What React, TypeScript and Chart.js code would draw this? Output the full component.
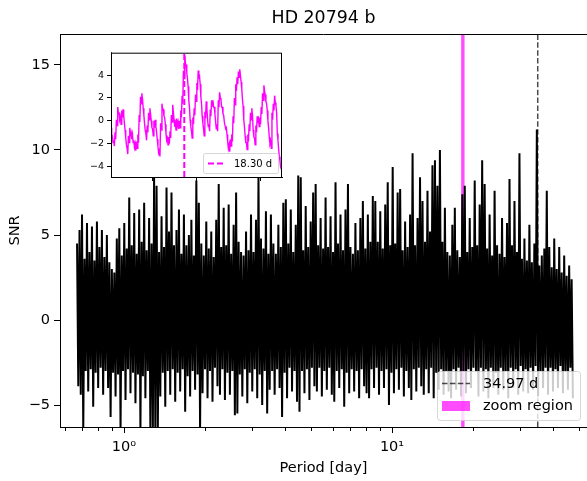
import React, { useEffect, useRef } from 'react';
import { Chart, registerables } from 'chart.js';
Chart.register(...registerables);

const TITLE = 'HD 20794 b';
const X_LABEL = 'Period [day]';
const Y_LABEL = 'SNR';
const PERIOD_START = 0.668;
const PERIOD_END = 47.3;
const X_MIN = 0.577;
const X_MAX = 53.4;
const Y_MIN = -6.29;
const Y_MAX = 16.82;
const Y_TICKS = [-5, 0, 5, 10, 15];
const X_MAJOR_TICKS = [1, 10];
const X_MINOR_TICKS = [0.6, 0.7, 0.8, 0.9, 2, 3, 4, 5, 6, 7, 8, 9, 20, 30, 40, 50];
const BEST_PERIOD = 34.97;
const BEST_LABEL = '34.97 d';
const ZOOM_LABEL = 'zoom region';
const ZOOM_PERIOD = 18.3;
const ZOOM_PERIOD_LABEL = '18.30 d';
const SPAN_RANGE = [18.1, 18.68];
const INSET_RANGE = [18.0, 18.7];
const INSET_Y_MIN = -4.9;
const INSET_Y_MAX = 5.95;
const INSET_Y_TICKS = [-4, -2, 0, 2, 4];
const INSET_X_TICKS = [18.17, 18.35, 18.61];

// per-bin maximum of SNR
const snrMax = [
  4.5, 5.3, 6.2, 3.6, 5.7, 4.0, 5.5, 3.5, 5.8, 4.3,
  5.3, 3.7, 5.0, 3.4, 3.0, 2.8, 4.8, 5.4, 3.8, 5.7,
  4.2, 7.2, 4.4, 6.3, 3.9, 6.5, 4.6, 6.9, 4.1, 6.0,
  4.5, 8.4, 7.9, 4.0, 6.1, 4.3, 7.8, 5.2, 7.5, 4.4,
  5.3, 6.5, 3.9, 6.2, 4.4, 5.0, 5.9, 3.8, 8.2, 6.9,
  4.5, 3.8, 5.8, 4.2, 5.2, 3.7, 5.9, 8.0, 4.3, 6.6,
  4.4, 6.8, 3.9, 5.6, 7.5, 4.6, 4.0, 3.8, 5.2, 4.1,
  6.2, 4.0, 5.9, 8.4, 4.8, 4.2, 6.4, 3.9, 6.2, 4.5,
  3.9, 5.6, 4.3, 6.9, 7.1, 4.5, 6.5, 4.0, 5.6, 8.5,
  8.4, 4.1, 6.7, 4.3, 5.8, 7.5, 8.0, 4.4, 6.0, 4.2,
  7.2, 4.3, 6.1, 4.0, 8.1, 4.5, 6.2, 4.1, 6.5, 8.0,
  4.3, 3.9, 5.7, 4.1, 6.0, 7.0, 4.2, 6.2, 4.6, 7.3,
  7.0, 4.6, 6.4, 4.2, 6.8, 8.1, 4.4, 9.0, 4.5, 7.5,
  7.7, 4.1, 5.8, 4.3, 6.2, 9.8, 4.4, 6.0, 8.4, 7.0,
  4.6, 7.6, 5.2, 9.1, 9.4, 7.9, 10.0, 4.6, 6.6, 4.0,
  3.8, 5.6, 6.6, 4.1, 3.7, 7.4, 7.9, 4.0, 6.0, 4.3,
  8.2, 4.4, 6.8, 9.4, 8.0, 4.2, 6.2, 3.8, 7.6, 4.4,
  3.9, 6.0, 3.7, 5.7, 8.3, 4.4, 7.0, 4.0, 9.8, 3.6,
  4.8, 3.5, 5.6, 3.4, 4.5, 11.2, 3.2, 3.8, 4.2, 7.6,
  4.3, 3.1, 4.8, 3.0, 4.3, 2.8, 3.8, 2.6, 3.2, 2.4,
];

// per-bin minimum of SNR
const snrMin = [
  -3.9, -4.4, -6.5, -3.0, -4.2, -2.9, -5.1, -3.1, -4.0, -2.8,
  -4.4, -3.0, -4.0, -5.7, -3.1, -4.5, -3.2, -6.5, -3.0, -4.7,
  -2.9, -4.3, -3.1, -4.9, -3.2, -6.5, -3.3, -4.6, -3.0, -6.5,
  -6.5, -6.5, -6.5, -4.5, -3.1, -5.1, -3.0, -4.4, -2.9, -4.8,
  -3.1, -4.2, -2.9, -5.4, -3.3, -4.5, -3.0, -4.1, -3.2, -6.5,
  -4.3, -2.9, -4.6, -3.0, -4.8, -2.8, -3.9, -4.4, -2.9, -4.7,
  -3.1, -4.4, -3.0, -5.6, -5.5, -3.2, -4.5, -2.9, -4.9, -3.1,
  -4.2, -2.9, -4.6, -3.2, -5.0, -3.0, -5.5, -4.1, -3.0, -4.4,
  -2.9, -4.0, -5.7, -3.1, -4.6, -2.8, -4.2, -3.0, -4.8, -5.4,
  -3.0, -4.3, -2.9, -4.7, -2.8, -3.9, -4.2, -2.8, -4.5, -3.0,
  -4.1, -2.8, -4.4, -4.8, -3.0, -4.0, -2.9, -5.1, -3.1, -4.3,
  -2.9, -4.2, -3.0, -4.6, -2.9, -3.9, -4.3, -4.6, -2.9, -4.0,
  -2.8, -4.4, -3.0, -4.0, -2.9, -5.0, -3.1, -4.3, -2.9, -4.1,
  -2.8, -4.5, -3.0, -4.0, -4.7, -2.9, -4.2, -2.8, -3.9, -4.4,
  -2.9, -4.3, -2.8, -4.6, -3.1, -4.1, -2.9, -4.4, -3.0, -4.2,
  -4.6, -2.9, -4.1, -2.8, -4.5, -3.0, -4.3, -2.9, -4.0, -2.8,
  -3.0, -4.5, -2.8, -4.2, -2.9, -4.6, -2.8, -4.0, -3.1, -4.4,
  -2.8, -4.1, -3.0, -4.6, -2.8, -4.0, -2.9, -4.4, -2.7, -4.2,
  -2.9, -4.3, -2.8, -4.1, -2.7, -4.5, -3.0, -4.0, -2.8, -4.4,
  -2.8, -4.2, -2.9, -4.0, -2.7, -4.3, -3.0, -4.1, -2.8, -4.6,
];

// zoomed SNR around 18.3 d
const insetSnr = [
  -0.6, -1.2, -1.3, -1.9, -1.7, -2.2, -1.0, -1.6, 0.1, -0.4, 1.2, 0.7, 0.7, 0.1, 0.3, -0.3, 0.9, 0.3, 1.0, 0.4,
  -0.2, -0.8, -1.5, -2.1, -2.4, -2.9, -1.3, -1.9, -0.6, -1.2, -1.0, -1.6, -1.2, -1.9, -1.7, -2.3, -2.0, -2.6, -1.8, -2.4,
  -1.2, -1.9, 0.5, -0.1, 2.1, 1.5, 2.4, 1.9, 1.1, 0.5, -0.2, -0.8, -1.1, -1.7, -0.4, -1.0, 0.7, 0.1, 1.1, 0.6,
  0.0, -0.6, -0.7, -1.3, 0.0, -0.6, 0.1, -0.5, -1.0, -1.6, -2.2, -2.8, -2.6, -3.1, -0.2, -0.8, 1.5, 1.0, 1.0, 0.4,
  0.3, -0.3, -1.1, -1.7, -1.5, -2.1, -1.4, -2.0, -0.9, -1.5, 0.5, -0.1, 1.4, 0.8, 0.1, -0.5, -0.2, -0.8, 0.2, -0.4,
  -0.1, -0.7, 0.0, -0.6, 0.9, 0.3, 2.2, 1.5, 4.4, 3.7, 5.7, 5.0, 4.9, 4.2, 3.7, 3.0, 1.8, 1.2, 0.1, -0.5,
  -0.9, -1.5, 0.3, -0.3, 1.1, 0.5, 2.3, 1.7, 3.3, 2.7, 4.4, 3.8, 3.9, 3.2, 2.1, 1.5, 0.4, -0.2, -0.7, -1.3,
  0.8, 0.2, 1.7, 1.1, 0.1, -0.5, -0.3, -0.9, 1.0, 0.4, 1.8, 1.3, 1.8, 1.2, 1.2, 0.6, -0.1, -0.7, -0.3, -0.9,
  1.8, 1.2, 2.5, 2.0, 1.8, 1.2, 1.2, 0.6, 0.5, -0.1, -0.1, -0.7, -0.6, -1.2, -1.8, -2.4, -2.1, -2.7, -1.6, -2.2,
  -1.2, -1.8, 0.4, -0.2, 2.0, 1.4, 3.2, 2.6, 3.8, 3.2, 4.3, 3.8, 4.5, 4.0, 3.4, 2.8, 1.9, 1.3, 0.1, -0.5,
  -1.3, -1.9, -1.9, -2.5, -1.2, -1.8, -0.3, -0.9, 0.7, 0.1, 1.1, 0.5, -0.8, -1.4, -1.5, -2.1, -0.4, -1.0, 0.4, -0.2,
  0.1, -0.5, 0.3, -0.3, 1.2, 0.6, 2.4, 1.8, 3.1, 2.6, 2.3, 1.7, 1.5, 0.9, 0.0, -0.6, -1.4, -2.0, -1.8, -2.4,
  0.7, 0.1, 1.5, 0.9, 2.2, 1.6, 1.3, 0.7, -1.1, -1.7, -2.5, -3.1, -3.5, -4.1, -4.1, -4.6,
];

const FONT = '"DejaVu Sans", sans-serif';

function mainPoints() {
  const a = Math.log10(PERIOD_START);
  const b = Math.log10(PERIOD_END);
  const n = snrMax.length;
  const m = 2 * n - 1;
  const pts: { x: number; y: number }[] = [];
  for (let i = 0; i < n; i++) {
    pts.push({ x: Math.pow(10, a + ((b - a) * (2 * i)) / m), y: snrMax[i] });
    pts.push({ x: Math.pow(10, a + ((b - a) * (2 * i + 1)) / m), y: snrMin[i] });
  }
  return pts;
}

function insetPoints() {
  const n = insetSnr.length;
  return insetSnr.map((v, i) => ({
    x: INSET_RANGE[0] + ((INSET_RANGE[1] - INSET_RANGE[0]) * i) / (n - 1),
    y: v,
  }));
}

const fmt = (v: number) => (v < 0 ? '\u2212' + Math.abs(v) : String(v));

function roundRect(ctx: CanvasRenderingContext2D, x: number, y: number, w: number, h: number, r: number) {
  ctx.beginPath();
  ctx.moveTo(x + r, y);
  ctx.lineTo(x + w - r, y);
  ctx.arcTo(x + w, y, x + w, y + r, r);
  ctx.lineTo(x + w, y + h - r);
  ctx.arcTo(x + w, y + h, x + w - r, y + h, r);
  ctx.lineTo(x + r, y + h);
  ctx.arcTo(x, y + h, x, y + h - r, r);
  ctx.lineTo(x, y + r);
  ctx.arcTo(x, y, x + r, y, r);
  ctx.closePath();
}

export default function App() {
  const mainRef = useRef<HTMLCanvasElement>(null);
  const insetRef = useRef<HTMLCanvasElement>(null);

  useEffect(() => {
    const decoMain = {
      id: 'decoMain',
      afterDraw(chart: any) {
        const ctx = chart.ctx as CanvasRenderingContext2D;
        const area = chart.chartArea;
        const xs = chart.scales.x;
        ctx.save();
        ctx.strokeStyle = '#000';
        ctx.lineWidth = 1;
        ctx.beginPath();
        ctx.moveTo(area.left, area.top + 0.5);
        ctx.lineTo(area.right, area.top + 0.5);
        ctx.stroke();
        X_MINOR_TICKS.forEach((v) => {
          const px = Math.round(xs.getPixelForValue(v)) + 0.5;
          ctx.beginPath();
          ctx.moveTo(px, area.bottom);
          ctx.lineTo(px, area.bottom + 4);
          ctx.stroke();
        });
        ctx.fillStyle = '#000';
        ctx.textAlign = 'center';
        ctx.textBaseline = 'middle';
        ctx.font = '17.4px ' + FONT;
        ctx.fillText(TITLE, (area.left + area.right) / 2, 18);
        ctx.font = '14.5px ' + FONT;
        ctx.fillText(X_LABEL, (area.left + area.right) / 2, 468);
        ctx.save();
        ctx.translate(15, (area.top + area.bottom) / 2);
        ctx.rotate(-Math.PI / 2);
        ctx.fillText(Y_LABEL, 0, 0);
        ctx.restore();
        // legend
        const lx = 437, ly = 371, lw = 143, lh = 49;
        roundRect(ctx, lx + 0.5, ly + 0.5, lw, lh, 3);
        ctx.fillStyle = 'rgba(255,255,255,0.8)';
        ctx.fill();
        ctx.strokeStyle = 'rgba(204,204,204,0.8)';
        ctx.lineWidth = 1;
        ctx.stroke();
        ctx.strokeStyle = 'rgba(0,0,0,0.7)';
        ctx.lineWidth = 1.5;
        ctx.setLineDash([5.5, 2.4]);
        ctx.beginPath();
        ctx.moveTo(lx + 5, ly + 12.5);
        ctx.lineTo(lx + 33, ly + 12.5);
        ctx.stroke();
        ctx.setLineDash([]);
        ctx.fillStyle = 'rgba(255,0,255,0.7)';
        ctx.fillRect(lx + 5, ly + 30, 28, 10);
        ctx.fillStyle = '#000';
        ctx.textAlign = 'left';
        ctx.font = '14.5px ' + FONT;
        ctx.fillText(BEST_LABEL, lx + 46, ly + 13);
        ctx.fillText(ZOOM_LABEL, lx + 46, ly + 35);
        ctx.restore();
      },
    };

    const allXTicks = [...X_MINOR_TICKS, ...X_MAJOR_TICKS].sort((a, b) => a - b);

    const main = new Chart(mainRef.current!, {
      type: 'line',
      data: {
        datasets: [
          {
            data: [
              { x: BEST_PERIOD, y: Y_MIN },
              { x: BEST_PERIOD, y: Y_MAX },
            ],
            borderColor: 'rgba(0,0,0,0.7)',
            borderWidth: 1.5,
            borderDash: [5.5, 2.4],
            pointRadius: 0,
            order: 0,
          },
          {
            data: mainPoints(),
            borderColor: '#000',
            borderWidth: 2,
            borderJoinStyle: 'bevel',
            pointRadius: 0,
            tension: 0,
            order: 1,
          },
          {
            data: [
              { x: SPAN_RANGE[0], y: Y_MAX },
              { x: SPAN_RANGE[1], y: Y_MAX },
            ],
            borderWidth: 0,
            borderColor: 'rgba(0,0,0,0)',
            backgroundColor: 'rgba(255,0,255,0.7)',
            fill: 'start',
            pointRadius: 0,
            order: 2,
          },
        ],
      },
      options: {
        animation: false,
        responsive: false,
        layout: { padding: { top: 34, right: 0, left: 0, bottom: 0 } },
        plugins: { legend: { display: false }, tooltip: { enabled: false }, title: { display: false } },
        scales: {
          x: {
            type: 'logarithmic',
            min: X_MIN,
            max: X_MAX,
            afterBuildTicks: (sc: any) => {
              sc.ticks = allXTicks.map((v) => ({ value: v }));
            },
            afterFit: (sc: any) => {
              sc.height = 54;
            },
            ticks: {
              autoSkip: false,
              maxRotation: 0,
              minRotation: 0,
              padding: 6,
              color: '#000',
              font: { family: FONT, size: 14.5 },
              callback: (v: any) => (v === 1 ? '10\u2070' : v === 10 ? '10\u00b9' : ''),
            },
            grid: {
              drawOnChartArea: false,
              tickLength: 6,
              tickColor: (c: any) => (c.tick && X_MAJOR_TICKS.includes(c.tick.value) ? '#000' : 'rgba(0,0,0,0)'),
            },
            border: { color: '#000', width: 1 },
          },
          y: {
            type: 'linear',
            min: Y_MIN,
            max: Y_MAX,
            afterBuildTicks: (sc: any) => {
              sc.ticks = Y_TICKS.map((v) => ({ value: v }));
            },
            afterFit: (sc: any) => {
              sc.width = 60;
            },
            ticks: {
              padding: 4,
              color: '#000',
              font: { family: FONT, size: 14.5 },
              callback: (v: any) => fmt(v),
            },
            grid: { drawOnChartArea: false, tickLength: 6, tickColor: '#000' },
            border: { color: '#000', width: 1 },
          },
        },
      },
      plugins: [decoMain],
    } as any);

    const decoInset = {
      id: 'decoInset',
      beforeDatasetsDraw(chart: any) {
        const ctx = chart.ctx as CanvasRenderingContext2D;
        const a = chart.chartArea;
        ctx.save();
        ctx.fillStyle = '#fff';
        ctx.fillRect(a.left, a.top, a.right - a.left, a.bottom - a.top);
        ctx.restore();
      },
      afterDraw(chart: any) {
        const ctx = chart.ctx as CanvasRenderingContext2D;
        const a = chart.chartArea;
        ctx.save();
        ctx.strokeStyle = '#000';
        ctx.lineWidth = 1;
        ctx.strokeRect(a.left + 0.5, a.top + 0.5, a.right - a.left - 1, a.bottom - a.top);
        const lw = 75, lh = 20;
        const lx = a.right - 4 - lw, ly = a.bottom - 4 - lh;
        roundRect(ctx, lx + 0.5, ly + 0.5, lw, lh, 2);
        ctx.fillStyle = 'rgba(255,255,255,0.8)';
        ctx.fill();
        ctx.strokeStyle = 'rgba(204,204,204,0.8)';
        ctx.stroke();
        ctx.strokeStyle = '#ff00ff';
        ctx.lineWidth = 2;
        ctx.setLineDash([6, 3]);
        ctx.beginPath();
        ctx.moveTo(lx + 5, ly + 10.5);
        ctx.lineTo(lx + 23, ly + 10.5);
        ctx.stroke();
        ctx.setLineDash([]);
        ctx.fillStyle = '#000';
        ctx.font = '10px ' + FONT;
        ctx.textAlign = 'left';
        ctx.textBaseline = 'middle';
        ctx.fillText(ZOOM_PERIOD_LABEL, lx + 31, ly + 11);
        ctx.restore();
      },
    };

    const inset = new Chart(insetRef.current!, {
      type: 'line',
      data: {
        datasets: [
          {
            data: [
              { x: ZOOM_PERIOD, y: INSET_Y_MIN },
              { x: ZOOM_PERIOD, y: INSET_Y_MAX },
            ],
            borderColor: '#ff00ff',
            borderWidth: 2,
            borderDash: [6, 3],
            pointRadius: 0,
            order: 0,
          },
          {
            data: insetPoints(),
            borderColor: '#ff00ff',
            borderWidth: 1.4,
            pointRadius: 0,
            tension: 0,
            order: 1,
          },
        ],
      },
      options: {
        animation: false,
        responsive: false,
        layout: { padding: { top: 4, right: 3, left: 0, bottom: 0 } },
        plugins: { legend: { display: false }, tooltip: { enabled: false } },
        scales: {
          x: {
            type: 'linear',
            min: INSET_RANGE[0],
            max: INSET_RANGE[1],
            afterBuildTicks: (sc: any) => {
              sc.ticks = INSET_X_TICKS.map((v) => ({ value: v }));
            },
            afterFit: (sc: any) => {
              sc.height = 9;
            },
            ticks: { display: true, autoSkip: false, callback: () => '' },
            grid: { drawOnChartArea: false, tickLength: 4, tickColor: '#000' },
            border: { color: '#000', width: 1 },
          },
          y: {
            type: 'linear',
            min: INSET_Y_MIN,
            max: INSET_Y_MAX,
            afterBuildTicks: (sc: any) => {
              sc.ticks = INSET_Y_TICKS.map((v) => ({ value: v }));
            },
            afterFit: (sc: any) => {
              sc.width = 26;
            },
            ticks: {
              padding: 3,
              color: '#000',
              font: { family: FONT, size: 9.5 },
              callback: (v: any) => fmt(v),
            },
            grid: { drawOnChartArea: false, tickLength: 4, tickColor: '#000' },
            border: { color: '#000', width: 1 },
          },
        },
      },
      plugins: [decoInset],
    } as any);

    return () => {
      main.destroy();
      inset.destroy();
    };
  }, []);

  return (
    <div style={{ position: 'fixed', left: 0, top: 0, width: 587, height: 481, background: '#fff', overflow: 'hidden' }}>
      <canvas ref={mainRef} width={587} height={481} style={{ position: 'absolute', left: 0, top: 0, width: 587, height: 481 }} />
      <canvas ref={insetRef} width={200} height={142} style={{ position: 'absolute', left: 85, top: 44, width: 200, height: 142 }} />
    </div>
  );
}
